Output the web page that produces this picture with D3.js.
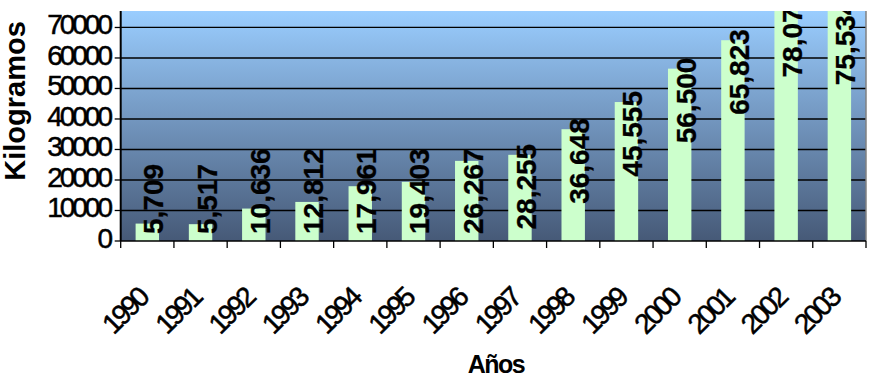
<!DOCTYPE html>
<html>
<head>
<meta charset="utf-8">
<script src="https://cdn.jsdelivr.net/npm/d3@7"></script>
<style>
  html, body { margin: 0; padding: 0; background: #fff; }
  svg { display: block; font-family: "Liberation Sans", Arial, sans-serif; }
</style>
</head>
<body>
<svg id="chart" width="869" height="378"></svg>
<script>
// Annual quantities (kg)
const years = ["1990","1991","1992","1993","1994","1995","1996","1997","1998","1999","2000","2001","2002","2003"];
const kilos = [5709, 5517, 10636, 12812, 17961, 19403, 26267, 28255, 36648, 45555, 56500, 65823, 78074, 75534];
const yTicks = [0, 10000, 20000, 30000, 40000, 50000, 60000, 70000];
const xTitle = "Años";
const yTitle = "Kilogramos";

const svg = d3.select("#chart");
const plot = { left: 120.7, right: 866, top: 11, bottom: 241 };

const x = d3.scaleBand()
  .domain(years)
  .range([plot.left, plot.right])
  .paddingInner(0.56)
  .paddingOuter(0.28);

const y = d3.scaleLinear()
  .domain([0, 75400])
  .range([plot.bottom, plot.top]);

const defs = svg.append("defs");
const grad = defs.append("linearGradient")
  .attr("id", "bg").attr("x1", 0).attr("y1", 0).attr("x2", 0).attr("y2", 1);
grad.append("stop").attr("offset", "0%").attr("stop-color", "#9acdff");
grad.append("stop").attr("offset", "100%").attr("stop-color", "#465977");

defs.append("clipPath").attr("id", "plotClip")
  .append("rect")
  .attr("x", plot.left).attr("y", plot.top)
  .attr("width", plot.right - plot.left).attr("height", plot.bottom - plot.top);

// Plot background
svg.append("rect")
  .attr("x", plot.left).attr("y", plot.top)
  .attr("width", plot.right - plot.left).attr("height", plot.bottom - plot.top)
  .attr("fill", "url(#bg)");

// Horizontal gridlines
svg.append("g").selectAll("line")
  .data(yTicks.filter(d => d > 0))
  .join("line")
  .attr("x1", plot.left).attr("x2", plot.right)
  .attr("y1", d => y(d)).attr("y2", d => y(d))
  .attr("stroke", "#000").attr("stroke-width", 1.3);

const inner = svg.append("g").attr("clip-path", "url(#plotClip)");
const rows = years.map((yr, i) => ({ yr, v: kilos[i] }));

// Bars
inner.selectAll("rect.bar")
  .data(rows)
  .join("rect")
  .attr("class", "bar")
  .attr("x", d => x(d.yr))
  .attr("width", x.bandwidth())
  .attr("y", d => y(d.v))
  .attr("height", d => y(0) - y(d.v))
  .attr("fill", "#ccffcc");

// Value labels, vertical: end of text sits just above the bar top,
// but never runs below the baseline of the axis
const fmt = d3.format(",");
const labels = inner.selectAll("text.val")
  .data(rows)
  .join("text")
  .attr("class", "val")
  .attr("font-size", 28)
  .attr("font-weight", "bold")
  .attr("fill", "#000")
  .attr("stroke", "#000")
  .attr("stroke-width", 0.3)
  .text(d => fmt(d.v));

labels.each(function(d) {
  const len = this.getBBox().width;
  const cx = x(d.yr) + x.bandwidth() / 2;
  const top = y(d.v) - 11;
  const sel = d3.select(this);
  if (top + len > 234) {
    sel.attr("text-anchor", "start")
       .attr("transform", `translate(${cx + 16},234) rotate(-90)`);
  } else {
    sel.attr("text-anchor", "end")
       .attr("transform", `translate(${cx + 16},${top}) rotate(-90)`);
  }
});

// Right border
svg.append("line")
  .attr("x1", plot.right).attr("x2", plot.right)
  .attr("y1", plot.top).attr("y2", plot.bottom)
  .attr("stroke", "#808080").attr("stroke-width", 1.5);

// Y axis
const yAxis = svg.append("g");
yAxis.append("line")
  .attr("x1", plot.left).attr("x2", plot.left)
  .attr("y1", plot.top).attr("y2", plot.bottom)
  .attr("stroke", "#000").attr("stroke-width", 2);
yAxis.selectAll("line.tick")
  .data(yTicks)
  .join("line").attr("class", "tick")
  .attr("x1", plot.left - 6).attr("x2", plot.left)
  .attr("y1", d => y(d)).attr("y2", d => y(d))
  .attr("stroke", "#000").attr("stroke-width", 1.3);
yAxis.selectAll("text")
  .data(yTicks)
  .join("text")
  .attr("x", 110)
  .attr("y", d => y(d))
  .attr("dy", "0.25em")
  .attr("text-anchor", "end")
  .attr("font-size", 28)
  .attr("letter-spacing", "-3px")
  .attr("stroke", "#000")
  .attr("stroke-width", 0.5)
  .text(d => d);

// X axis
const xAxis = svg.append("g");
xAxis.append("line")
  .attr("x1", plot.left).attr("x2", plot.right)
  .attr("y1", plot.bottom).attr("y2", plot.bottom)
  .attr("stroke", "#000").attr("stroke-width", 1.5);
const step = x.step();
const boundaries = d3.range(years.length + 1).map(i => plot.left + i * step);
xAxis.selectAll("line.tick")
  .data(boundaries)
  .join("line").attr("class", "tick")
  .attr("x1", d => d).attr("x2", d => d)
  .attr("y1", plot.bottom).attr("y2", plot.bottom + 7)
  .attr("stroke", "#000").attr("stroke-width", 1.3);
xAxis.selectAll("text")
  .data(years)
  .join("text")
  .attr("transform", d => `translate(${x(d) + x.bandwidth() / 2 + 2},300) rotate(-45)`)
  .attr("text-anchor", "end")
  .attr("font-size", 28)
  .attr("letter-spacing", "-3px")
  .attr("stroke", "#000")
  .attr("stroke-width", 0.5)
  .text(d => d);

// Axis titles
svg.append("text")
  .attr("x", 496).attr("y", 373)
  .attr("text-anchor", "middle")
  .attr("font-size", 25)
  .attr("font-weight", "bold")
  .attr("letter-spacing", "-1.5px")
  .text(xTitle);

svg.append("text")
  .attr("transform", "translate(25,101) rotate(-90)")
  .attr("text-anchor", "middle")
  .attr("font-size", 29)
  .attr("font-weight", "bold")
  .text(yTitle);
</script>
</body>
</html>
